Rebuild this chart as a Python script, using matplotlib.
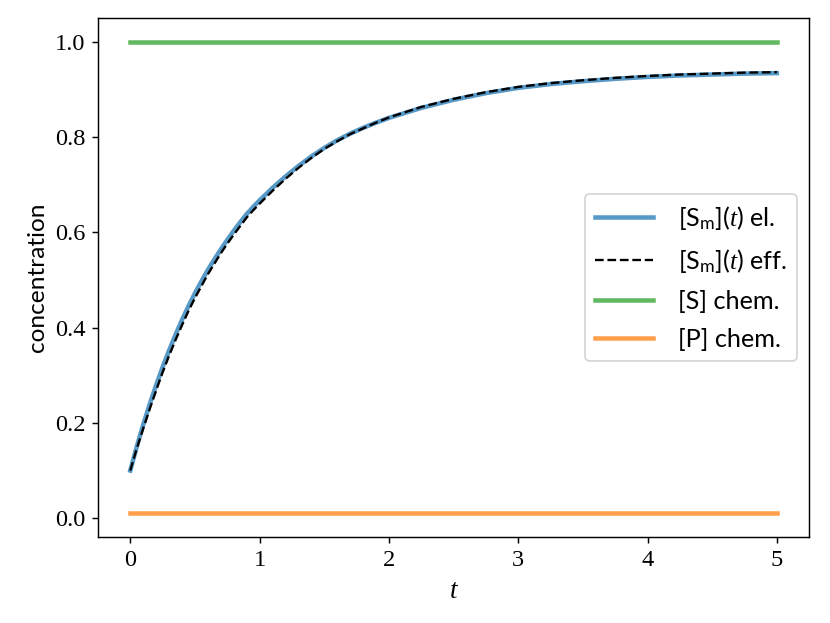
import matplotlib
matplotlib.use("Agg")
import matplotlib.pyplot as plt
import numpy as np

# values
t = [0, 0.05, 0.1, 0.15, 0.2, 0.25, 0.3, 0.35, 0.4, 0.45, 0.5, 0.55, 0.6, 0.65,
     0.7, 0.75, 0.8, 0.85, 0.9, 0.95, 1.0, 1.1, 1.2, 1.3, 1.4, 1.5, 1.6, 1.7,
     1.8, 1.9, 2.0, 2.25, 2.5, 2.75, 3.0, 3.25, 3.5, 3.75, 4.0, 4.25, 4.5, 4.75, 5.0]
sm_el = [0.100, 0.150, 0.196, 0.239, 0.279, 0.317, 0.352, 0.385, 0.416, 0.445,
         0.472, 0.497, 0.521, 0.543, 0.564, 0.584, 0.603, 0.621, 0.638, 0.653,
         0.667, 0.693, 0.717, 0.739, 0.759, 0.777, 0.793, 0.807, 0.819, 0.830,
         0.840, 0.861, 0.878, 0.892, 0.903, 0.911, 0.917, 0.922, 0.926, 0.929,
         0.931, 0.933, 0.934]
sm_eff = [0.100, 0.146, 0.188, 0.229, 0.268, 0.306, 0.341, 0.374, 0.405, 0.435,
          0.462, 0.487, 0.512, 0.534, 0.556, 0.576, 0.595, 0.613, 0.631, 0.646,
          0.660, 0.687, 0.712, 0.735, 0.756, 0.775, 0.791, 0.806, 0.818, 0.830,
          0.841, 0.863, 0.880, 0.894, 0.905, 0.913, 0.919, 0.924, 0.928, 0.931,
          0.933, 0.935, 0.936]
t_chem = [0, 5]
s_chem = [1.0, 1.0]
p_chem = [0.01, 0.01]

plt.rcParams['font.family'] = ['Lato', 'DejaVu Sans']
plt.rcParams['font.size'] = 13.5
plt.rcParams['mathtext.fontset'] = 'custom'
plt.rcParams['mathtext.rm'] = 'Lato'
plt.rcParams['mathtext.it'] = 'Liberation Serif:italic'

fig, ax = plt.subplots(figsize=(8.3 / 1.3, 6.23 / 1.3), dpi=130)
fig.subplots_adjust(left=0.118, right=0.975, top=0.971, bottom=0.138)

ax.plot(t, sm_el, color='tab:blue', alpha=0.75, lw=2.5, label=r'$[\mathrm{S}_\mathrm{m}](t)$ el.')
ax.plot(t, sm_eff, color='black', ls='--', lw=1.3, label=r'$[\mathrm{S}_\mathrm{m}](t)$ eff.')
ax.plot(t_chem, s_chem, color='tab:green', alpha=0.75, lw=2.5, label='[S] chem.')
ax.plot(t_chem, p_chem, color='tab:orange', alpha=0.75, lw=2.5, label='[P] chem.')

ax.set_xlabel(r'$t$', fontsize=15)
ax.set_ylabel('concentration')
ax.set_yticks([0.0, 0.2, 0.4, 0.6, 0.8, 1.0])
ax.tick_params(labelsize=13.5, labelfontfamily='Liberation Serif')
ax.legend(loc='center right', fontsize=14, handlelength=2.3, handletextpad=0.95,
          labelspacing=0.6)

fig.savefig('out.png', dpi=130)
